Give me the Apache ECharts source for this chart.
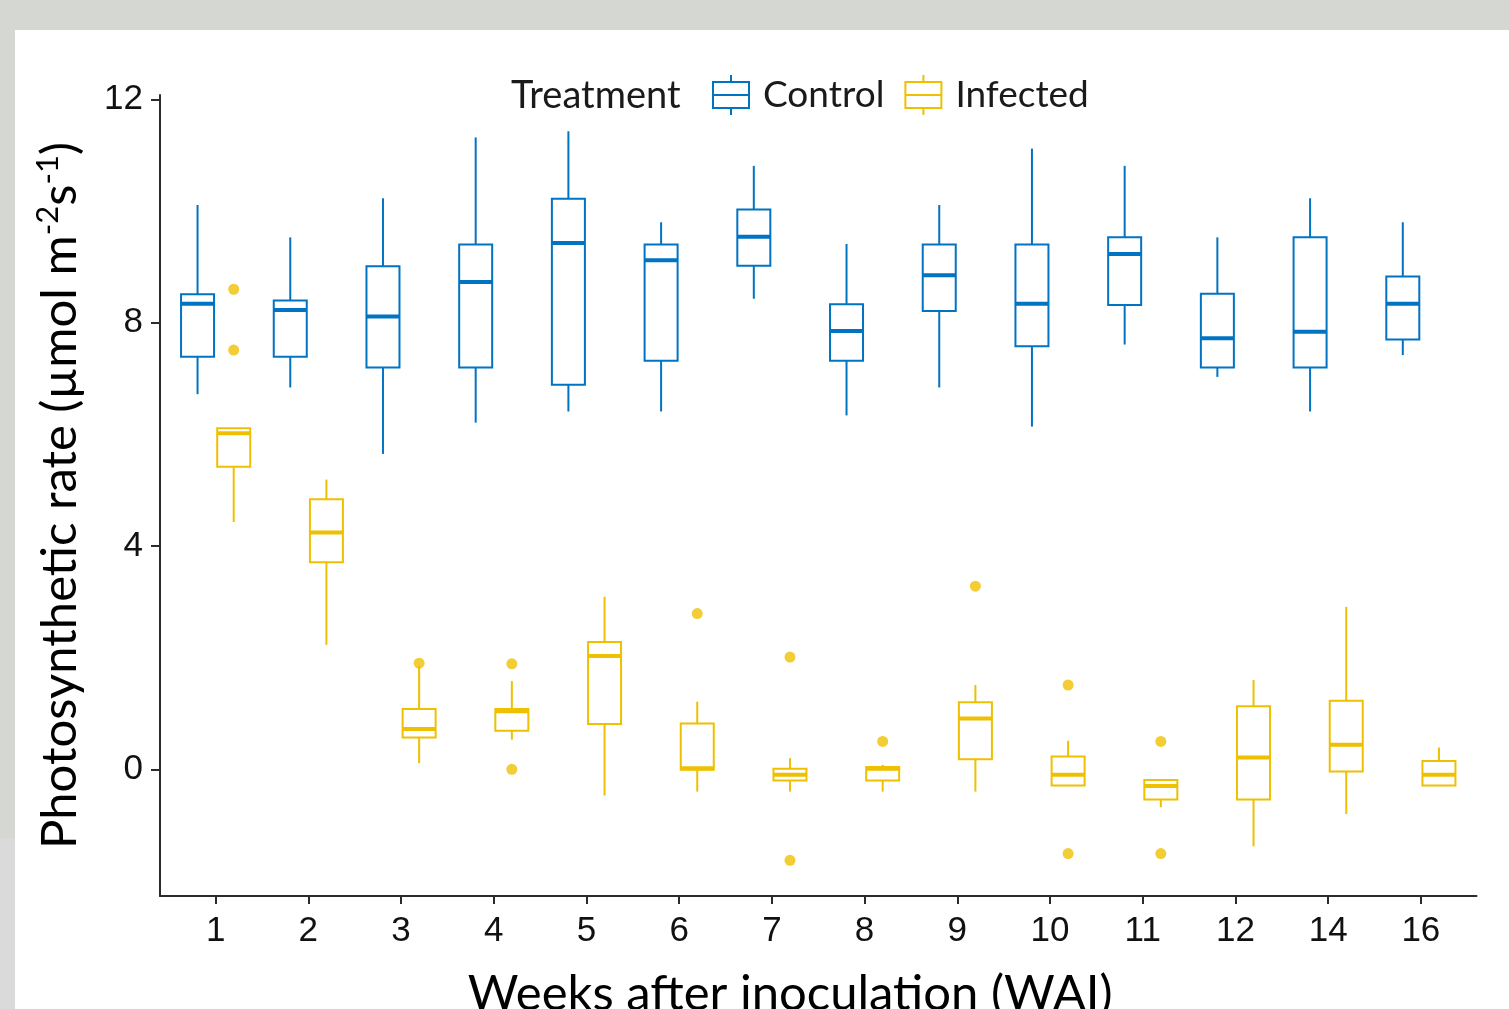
<!DOCTYPE html>
<html>
<head>
<meta charset="utf-8">
<script src="https://cdn.jsdelivr.net/npm/echarts@6/dist/echarts.min.js"></script>
<style>
  html, body { margin: 0; padding: 0; width: 1509px; height: 1009px; overflow: hidden; background: #d5d8d2; }
  #strip { position: absolute; left: 0; top: 838px; width: 15px; height: 171px; background: #dadada; }
  #panel { position: absolute; left: 15px; top: 30px; width: 1494px; height: 979px; background: #ffffff; }
  #chart { position: absolute; left: 0; top: 0; width: 1509px; height: 1009px; }
</style>
</head>
<body>
<div id="strip"></div>
<div id="panel"></div>
<div id="chart"></div>
<script>
// ---- Data ----
const weeks = ['1', '2', '3', '4', '5', '6', '7', '8', '9', '10', '11', '12', '14', '16'];
const yTicks = [0, 4, 8, 12];

// Control: lower whisker, Q1, median, Q3, upper whisker
const controlLow    = [6.72, 6.84, 5.65, 6.21, 6.41, 6.41, 8.43, 6.34, 6.84, 6.14, 7.61, 7.03, 6.41, 7.42];
const controlQ1     = [7.39, 7.39, 7.20, 7.20, 6.89, 7.32, 9.02, 7.32, 8.21, 7.58, 8.32, 7.20, 7.20, 7.70];
const controlMedian = [8.34, 8.23, 8.11, 8.73, 9.43, 9.12, 9.54, 7.85, 8.85, 8.34, 9.23, 7.72, 7.84, 8.34];
const controlQ3     = [8.51, 8.40, 9.01, 9.40, 10.22, 9.40, 10.03, 8.33, 9.40, 9.40, 9.53, 8.52, 9.53, 8.83];
const controlHigh   = [10.11, 9.53, 10.23, 11.32, 11.43, 9.80, 10.81, 9.41, 10.11, 11.12, 10.81, 9.53, 10.23, 9.80];

// Infected: lower whisker, Q1, median, Q3, upper whisker
const infectedLow    = [4.43, 2.23, 0.11, 0.53, -0.47, -0.40, -0.40, -0.40, -0.40, -0.29, -0.68, -1.38, -0.80, -0.29];
const infectedQ1     = [5.42, 3.71, 0.57, 0.69, 0.81, -0.01, -0.20, -0.20, 0.18, -0.29, -0.54, -0.54, -0.04, -0.29];
const infectedMedian = [6.02, 4.24, 0.72, 1.04, 2.03, 0.02, -0.10, 0.01, 0.91, -0.10, -0.30, 0.21, 0.44, -0.10];
const infectedQ3     = [6.11, 4.84, 1.08, 1.08, 2.28, 0.82, 0.01, 0.04, 1.20, 0.23, -0.19, 1.13, 1.23, 0.15];
const infectedHigh   = [6.11, 5.19, 1.85, 1.58, 3.09, 1.21, 0.20, 0.08, 1.51, 0.51, -0.19, 1.60, 2.91, 0.39];

// Outliers: [week index (0-based), value]
const controlOutliers = [];
const infectedOutliers = [
  [0, 8.60], [0, 7.51], [2, 1.90], [3, 1.89], [3, 0.00], [5, 2.79],
  [6, 2.01], [6, -1.63], [7, 0.50], [8, 3.28], [9, 1.51], [9, -1.51],
  [10, 0.50], [10, -1.51]
];

// ---- Styling ----
const BLUE = '#0073C2';
const YELLOW = '#EFC000';
const DODGE = 0.195;
const HALF = 0.178;

function boxData(low, q1, med, q3, high, offset) {
  return weeks.map((w, i) => [i + 1 + offset, low[i], q1[i], med[i], q3[i], high[i]]);
}
function outlierData(list, offset) {
  return list.map(p => [p[0] + 1 + offset, p[1]]);
}
function makeRender(color) {
  return function (params, api) {
    const x = api.value(0);
    const lo = api.value(1), q1 = api.value(2), md = api.value(3), q3 = api.value(4), hi = api.value(5);
    const tl = api.coord([x - HALF, q3]);
    const br = api.coord([x + HALF, q1]);
    const pMed = api.coord([x, md]);
    const pHi = api.coord([x, hi]);
    const pLo = api.coord([x, lo]);
    const cx = api.coord([x, q1])[0];
    return {
      type: 'group',
      children: [
        { type: 'line', shape: { x1: cx, y1: tl[1], x2: cx, y2: pHi[1] }, style: { stroke: color, lineWidth: 2 } },
        { type: 'line', shape: { x1: cx, y1: br[1], x2: cx, y2: pLo[1] }, style: { stroke: color, lineWidth: 2 } },
        { type: 'rect', shape: { x: tl[0], y: tl[1], width: br[0] - tl[0], height: br[1] - tl[1] },
          style: { fill: 'none', stroke: color, lineWidth: 2 } },
        { type: 'line', shape: { x1: tl[0], y1: pMed[1], x2: br[0], y2: pMed[1] }, style: { stroke: color, lineWidth: 4 } }
      ]
    };
  };
}

const keyIcon = 'path://M19,0L19,7M1,7L37,7L37,33L1,33ZM1,20L37,20M19,33L19,40';

const chart = echarts.init(document.getElementById('chart'), null, { renderer: 'canvas' });
chart.setOption({
  backgroundColor: 'transparent',
  animation: false,
  title: {
    text: 'Treatment',
    left: 511, top: 77, padding: 0,
    textStyle: { fontFamily: 'Lato', fontSize: 38, fontWeight: 'normal', color: '#1a1a1a' }
  },
  legend: {
    left: 712, top: 74, padding: 0,
    itemWidth: 38, itemHeight: 40, itemGap: 20,
    textStyle: { fontFamily: 'Lato', fontSize: 37, color: '#1a1a1a', padding: [0, 0, 0, 8] },
    data: [
      { name: 'Control', icon: keyIcon, itemStyle: { color: 'rgba(0,0,0,0)', borderColor: BLUE, borderWidth: 2 } },
      { name: 'Infected', icon: keyIcon, itemStyle: { color: 'rgba(0,0,0,0)', borderColor: YELLOW, borderWidth: 2 } }
    ]
  },
  grid: { left: 160, top: 95, right: 32.5, bottom: 113, outerBoundsMode: 'none', containLabel: false },
  xAxis: {
    type: 'value',
    min: 0.4, max: 14.6,
    name: 'Weeks after inoculation (WAI)',
    nameLocation: 'middle',
    nameGap: 70,
    nameTextStyle: { fontFamily: 'Lato', fontSize: 49, color: '#000', lineHeight: 56, padding: [0, 56, 0, 0] },
    axisLine: { show: true, onZero: false, lineStyle: { color: '#2b2b2b', width: 2 } },
    axisTick: { show: true, length: 8, customValues: weeks.map((w, i) => i + 1), lineStyle: { color: '#2b2b2b', width: 2 } },
    axisLabel: {
      customValues: weeks.map((w, i) => i + 1),
      formatter: v => weeks[Math.round(v) - 1],
      fontFamily: 'Liberation Sans', fontSize: 35, color: '#111', margin: 18
    },
    splitLine: { show: false }
  },
  yAxis: {
    type: 'value',
    min: -2.27, max: 12.08,
    name: '{n|Photosynthetic rate (µmol m}{s|-2}{n|s}{s|-1}{n|)}',
    nameLocation: 'middle',
    nameGap: 72,
    nameTextStyle: {
      rich: {
        n: { fontFamily: 'Lato', fontSize: 49, color: '#000', lineHeight: 56 },
        s: { fontFamily: 'Lato', fontSize: 31, color: '#000', lineHeight: 56, verticalAlign: 'top', padding: [0, 0, 18, 0] }
      }
    },
    axisLine: { show: true, onZero: false, lineStyle: { color: '#2b2b2b', width: 2 } },
    axisTick: { show: true, length: 9, customValues: yTicks, lineStyle: { color: '#2b2b2b', width: 2 } },
    axisLabel: {
      customValues: yTicks,
      fontFamily: 'Liberation Sans', fontSize: 35, color: '#111', margin: 17
    },
    splitLine: { show: false }
  },
  series: [
    {
      name: 'Control', type: 'custom', renderItem: makeRender(BLUE),
      data: boxData(controlLow, controlQ1, controlMedian, controlQ3, controlHigh, -DODGE),
      encode: { x: 0, y: [1, 2, 3, 4, 5] }, z: 2
    },
    {
      name: 'Infected', type: 'custom', renderItem: makeRender(YELLOW),
      data: boxData(infectedLow, infectedQ1, infectedMedian, infectedQ3, infectedHigh, DODGE),
      encode: { x: 0, y: [1, 2, 3, 4, 5] }, z: 2
    },
    {
      name: 'Control', type: 'scatter', symbol: 'circle', symbolSize: 11,
      itemStyle: { color: BLUE }, data: outlierData(controlOutliers, -DODGE), z: 3
    },
    {
      name: 'Infected', type: 'scatter', symbol: 'circle', symbolSize: 11,
      itemStyle: { color: YELLOW }, data: outlierData(infectedOutliers, DODGE), z: 3
    }
  ]
});
</script>
</body>
</html>
